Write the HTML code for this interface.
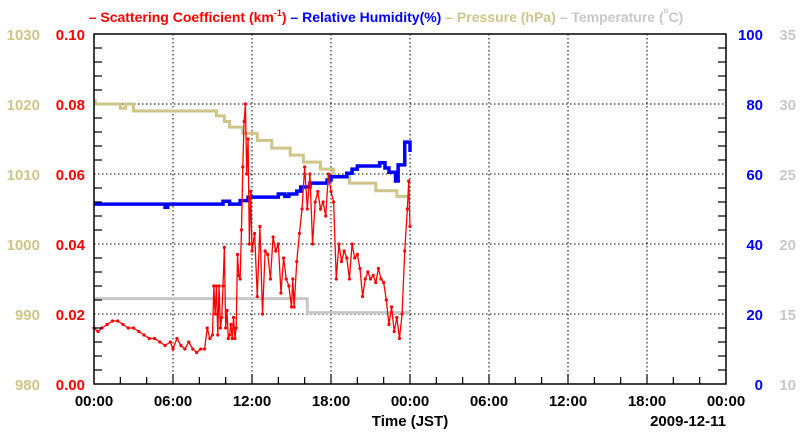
<!DOCTYPE html>
<html><head><meta charset="utf-8"><style>
html,body{margin:0;padding:0;background:#fff;}
svg text{font-family:"Liberation Sans",sans-serif;font-weight:bold;}
</style></head><body>
<svg id="chart" width="800" height="434" viewBox="0 0 800 434" xmlns="http://www.w3.org/2000/svg">
<text x="386" y="22" font-size="14" text-anchor="middle"><tspan fill="#ff0000">– Scattering Coefficient (km</tspan><tspan fill="#ff0000" font-size="9" dy="-6">-1</tspan><tspan fill="#ff0000" dy="6">)</tspan><tspan fill="#0000ff"> – Relative Humidity(%)</tspan><tspan fill="#cdc58a"> – Pressure (hPa)</tspan><tspan fill="#c8c8c8"> – Temperature (</tspan><tspan fill="#c8c8c8" font-size="8" dy="-9">o</tspan><tspan fill="#c8c8c8" dy="9">C)</tspan></text>
<g id="grid"></g>
<g id="series"></g>
<rect x="94" y="34" width="632" height="350" fill="none" stroke="#000" stroke-width="1.5"/>
<g id="axes"></g>
<text x="410" y="426" font-size="15" text-anchor="middle">Time (JST)</text>
<text x="726" y="426" font-size="15" text-anchor="end">2009-12-11</text>
</svg>
<script>
const xTickLabels=["00:00","06:00","12:00","18:00","00:00","06:00","12:00","18:00","00:00"];
const scatTicks=["0.00","0.02","0.04","0.06","0.08","0.10"];
const rhTicks=["0","20","40","60","80","100"];
const presTicks=["980","990","1000","1010","1020","1030"];
const tempTicks=["10","15","20","25","30","35"];
const pressureHours=[0,0.1,2.0,2.4,3.0,9.3,9.9,10.3,11.3,12.4,13.5,14.9,15.9,17.2,18.2,19.4,21.4,23.0,23.8];
const pressureVals=[1020.5,1020,1019.4,1020,1019,1018.3,1017.5,1016.7,1015.8,1014.8,1013.7,1012.7,1011.7,1010.7,1009.7,1008.7,1007.6,1006.8,1006.8];
const tempHours=[0,16.2,24];
const tempVals=[16.1,15.1,15.1];
const rhHours=[0,5.4,5.6,9.8,10.3,11.1,11.7,14.0,14.5,14.8,15.4,15.7,16.4,17.7,18.0,19.2,19.6,20.0,21.7,22.1,22.4,22.9,23.1,23.6,24.0];
const rhVals=[51.4,50.5,51.4,52.2,51.4,52.4,53.4,54.3,53.6,54.3,55.1,56.3,57.4,58.3,59.2,60.2,61.4,62.3,63.2,61.7,60.5,58,62.6,69.1,66.3];
const scatHours=[0,0.3,0.6,1.0,1.4,1.8,2.2,2.6,3.0,3.4,3.8,4.2,4.6,5.0,5.4,5.8,6.0,6.3,6.6,6.9,7.2,7.5,7.8,8.1,8.4,8.6,8.8,9.0,9.1,9.2,9.3,9.4,9.5,9.6,9.7,9.8,9.9,10.0,10.1,10.2,10.3,10.4,10.5,10.6,10.7,10.8,10.9,11.0,11.1,11.2,11.3,11.4,11.5,11.6,11.7,11.8,11.9,12.0,12.2,12.4,12.6,12.8,13.0,13.2,13.4,13.6,13.8,14.0,14.2,14.4,14.6,14.8,15.0,15.1,15.2,15.4,15.6,15.8,16.0,16.2,16.4,16.6,16.8,17.0,17.2,17.4,17.6,17.8,18.0,18.2,18.4,18.6,18.8,19.0,19.2,19.4,19.6,19.8,20.0,20.2,20.4,20.6,20.8,21.0,21.2,21.4,21.6,21.8,22.0,22.2,22.4,22.6,22.8,23.0,23.2,23.4,23.6,23.8,23.9,24.0];
const scatVals=[0.016,0.015,0.016,0.017,0.018,0.018,0.017,0.016,0.016,0.015,0.014,0.013,0.013,0.012,0.011,0.012,0.010,0.013,0.011,0.010,0.012,0.010,0.009,0.010,0.010,0.016,0.013,0.014,0.028,0.020,0.028,0.014,0.028,0.016,0.019,0.028,0.039,0.016,0.021,0.013,0.014,0.017,0.013,0.019,0.013,0.016,0.037,0.031,0.030,0.044,0.062,0.075,0.080,0.060,0.070,0.040,0.055,0.038,0.043,0.025,0.045,0.020,0.038,0.037,0.030,0.042,0.038,0.040,0.026,0.036,0.030,0.028,0.022,0.030,0.022,0.035,0.043,0.050,0.062,0.050,0.060,0.040,0.052,0.055,0.050,0.052,0.048,0.060,0.055,0.052,0.030,0.040,0.035,0.038,0.036,0.030,0.040,0.036,0.037,0.033,0.025,0.030,0.032,0.030,0.031,0.029,0.033,0.030,0.029,0.024,0.017,0.022,0.015,0.019,0.013,0.020,0.038,0.050,0.058,0.045,0.042];

const X0=94,X1=726,Y0=34,Y1=384,NS="http://www.w3.org/2000/svg";
const xs=h=>X0+h*(X1-X0)/48;
const yScat=v=>Y1-v/0.1*(Y1-Y0);
const yRh=v=>Y1-v/100*(Y1-Y0);
const yPres=v=>Y1-(v-980)/50*(Y1-Y0);
const yTemp=v=>Y1-(v-10)/25*(Y1-Y0);
function mk(tag,attrs,parent){const e=document.createElementNS(NS,tag);for(const k in attrs)e.setAttribute(k,attrs[k]);parent.appendChild(e);return e;}
const grid=document.getElementById('grid'),axes=document.getElementById('axes'),ser=document.getElementById('series');
for(let i=0;i<xTickLabels.length;i++){
  const x=xs(i*6);
  if(i>0&&i<xTickLabels.length-1){const g=mk('line',{x1:x,x2:x,y1:Y0,y2:Y1,stroke:'#000','stroke-width':1,'stroke-dasharray':'1.5,2.5'},grid);}
  const t=mk('text',{x:x,y:406,'font-size':15,'text-anchor':'middle',fill:'#000'},axes);t.textContent=xTickLabels[i];
  
}
for(let h=2;h<48;h+=2){const x=xs(h);const l=mk('line',{x1:x,x2:x,y1:Y1,y2:Y1-(h%6===0?10:7),stroke:'#000','stroke-width':1.2},axes);}
for(let i=0;i<6;i++){
  const y=Y1-i*(Y1-Y0)/5;
  if(i>0&&i<5){const g=mk('line',{x1:X0,x2:X1,y1:y,y2:y,stroke:'#000','stroke-width':1,'stroke-dasharray':'1.5,2.5'},grid);}
  let t=mk('text',{x:85,y:y+6,'font-size':15,'text-anchor':'end',fill:'#ff0000'},axes);t.textContent=scatTicks[i];
  t=mk('text',{x:40,y:y+6,'font-size':15,'text-anchor':'end',fill:'#cdc58a','font-weight':'normal'},axes);t.textContent=presTicks[i];
  t=mk('text',{x:763,y:y+6,'font-size':15,'text-anchor':'end',fill:'#0000ff'},axes);t.textContent=rhTicks[i];
  t=mk('text',{x:796,y:y+6,'font-size':15,'text-anchor':'end',fill:'#c8c8c8','font-weight':'normal'},axes);t.textContent=tempTicks[i];
}
for(let j=1;j<25;j++){if(j%5===0)continue;const y=Y1-j*(Y1-Y0)/25;
  let l=mk('line',{x1:X0,x2:X0+8,y1:y,y2:y,stroke:'#000','stroke-width':1.2},axes);
  l=mk('line',{x1:X1,x2:X1-8,y1:y,y2:y,stroke:'#000','stroke-width':1.2},axes);}
function stepPath(hs,vs,yf){let d='M'+xs(hs[0])+','+yf(vs[0]);for(let i=1;i<hs.length;i++){d+='H'+xs(hs[i])+'V'+yf(vs[i]);}return d;}
function linePath(hs,vs,yf){return hs.map((h,i)=>(i?'L':'M')+xs(h)+','+yf(vs[i])).join('');}
let p=mk('path',{d:stepPath(tempHours,tempVals,yTemp),fill:'none',stroke:'#c8c8c8','stroke-width':3},ser);

p=mk('path',{d:stepPath(pressureHours,pressureVals,yPres),fill:'none',stroke:'#cdc58a','stroke-width':3},ser);

p=mk('path',{d:stepPath(rhHours,rhVals,yRh),fill:'none',stroke:'#0000ff','stroke-width':3.5},ser);

p=mk('path',{d:linePath(scatHours,scatVals,yScat),fill:'none',stroke:'#ff0000','stroke-width':1.3},ser);

for(let i=0;i<scatHours.length;i++){const c=mk('circle',{cx:xs(scatHours[i]),cy:yScat(scatVals[i]),r:1.6,fill:'#ff0000'},ser);

}
</script>
</body></html>
